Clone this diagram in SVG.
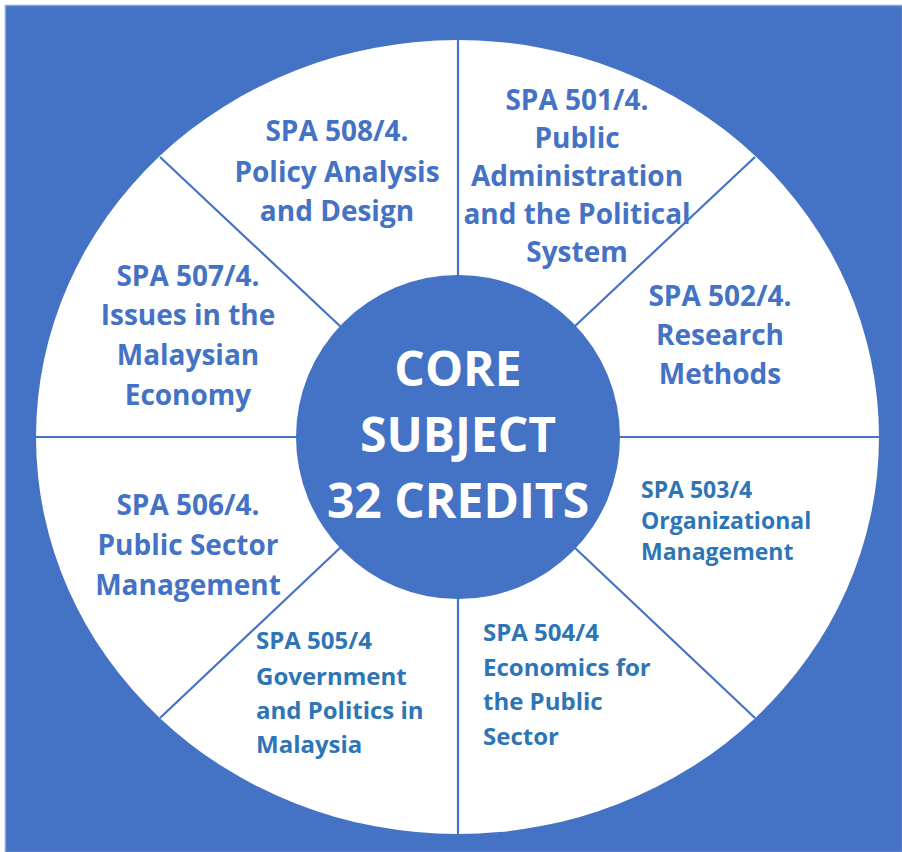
<svg xmlns="http://www.w3.org/2000/svg" width="902" height="852" viewBox="0 0 902 852">
<style>
.seg{font-family:"Open Sans",Lato,"Liberation Sans",sans-serif;font-weight:700;font-size:28px;fill:#4472C4;text-anchor:middle}
.sm{font-family:"Open Sans",Lato,"Liberation Sans",sans-serif;font-weight:700;font-size:23px;fill:#2E75B6}
.sm2{font-family:"Open Sans",Lato,"Liberation Sans",sans-serif;font-weight:700;font-size:24px;fill:#2E75B6}
.core{font-family:"Open Sans",Lato,"Liberation Sans",sans-serif;font-weight:700;font-size:48px;fill:#FFFFFF;text-anchor:middle}
.div{stroke:#4472C4;stroke-width:2.2;fill:none}
</style>
<rect x="0" y="0" width="902" height="852" fill="#FFFFFF"/>
<rect x="5.5" y="5.5" width="897" height="847" fill="#4472C4" stroke="#7FA3DA" stroke-width="1.5"/>
<ellipse id="wheel" cx="457.5" cy="437" rx="421.5" ry="397" fill="#FFFFFF"/>
<g id="connectors">
<line class="div" x1="458" y1="40" x2="458" y2="276"/>
<line class="div" x1="458" y1="598" x2="458" y2="834"/>
<line class="div" x1="36" y1="437" x2="296" y2="437"/>
<line class="div" x1="620" y1="437" x2="879" y2="437"/>
<line class="div" x1="160" y1="157" x2="341" y2="327"/>
<line class="div" x1="755" y1="157" x2="574" y2="327"/>
<line class="div" x1="160" y1="718" x2="341" y2="547"/>
<line class="div" x1="755" y1="718" x2="574" y2="547"/>
</g>
<g id="core">
<circle cx="458" cy="437" r="162" fill="#4472C4"/>
<text class="core" x="458" y="386">CORE</text>
<text class="core" x="458" y="452">SUBJECT</text>
<text class="core" x="458" y="518">32 CREDITS</text>
</g>
<g id="spa501">
<text class="seg" x="577" y="110">SPA 501/4.</text>
<text class="seg" x="577" y="148">Public</text>
<text class="seg" x="577" y="186">Administration</text>
<text class="seg" x="577" y="224">and the Political</text>
<text class="seg" x="577" y="262">System</text>
</g>
<g id="spa502">
<text class="seg" x="720" y="306">SPA 502/4.</text>
<text class="seg" x="720" y="345">Research</text>
<text class="seg" x="720" y="384">Methods</text>
</g>
<g id="spa503">
<text class="sm" x="641" y="498">SPA 503/4</text>
<text class="sm" x="641" y="529">Organizational</text>
<text class="sm" x="641" y="560">Management</text>
</g>
<g id="spa504">
<text class="sm2" x="483" y="641">SPA 504/4</text>
<text class="sm2" x="483" y="676">Economics for</text>
<text class="sm2" x="483" y="710">the Public</text>
<text class="sm2" x="483" y="745">Sector</text>
</g>
<g id="spa505">
<text class="sm2" x="256" y="649">SPA 505/4</text>
<text class="sm2" x="256" y="685">Government</text>
<text class="sm2" x="256" y="719">and Politics in</text>
<text class="sm2" x="256" y="753">Malaysia</text>
</g>
<g id="spa506">
<text class="seg" x="188" y="515">SPA 506/4.</text>
<text class="seg" x="188" y="555">Public Sector</text>
<text class="seg" x="188" y="595">Management</text>
</g>
<g id="spa507">
<text class="seg" x="188" y="286">SPA 507/4.</text>
<text class="seg" x="188" y="325">Issues in the</text>
<text class="seg" x="188" y="365">Malaysian</text>
<text class="seg" x="188" y="405">Economy</text>
</g>
<g id="spa508">
<text class="seg" x="337" y="141">SPA 508/4.</text>
<text class="seg" x="337" y="182">Policy Analysis</text>
<text class="seg" x="337" y="221">and Design</text>
</g>
</svg>
